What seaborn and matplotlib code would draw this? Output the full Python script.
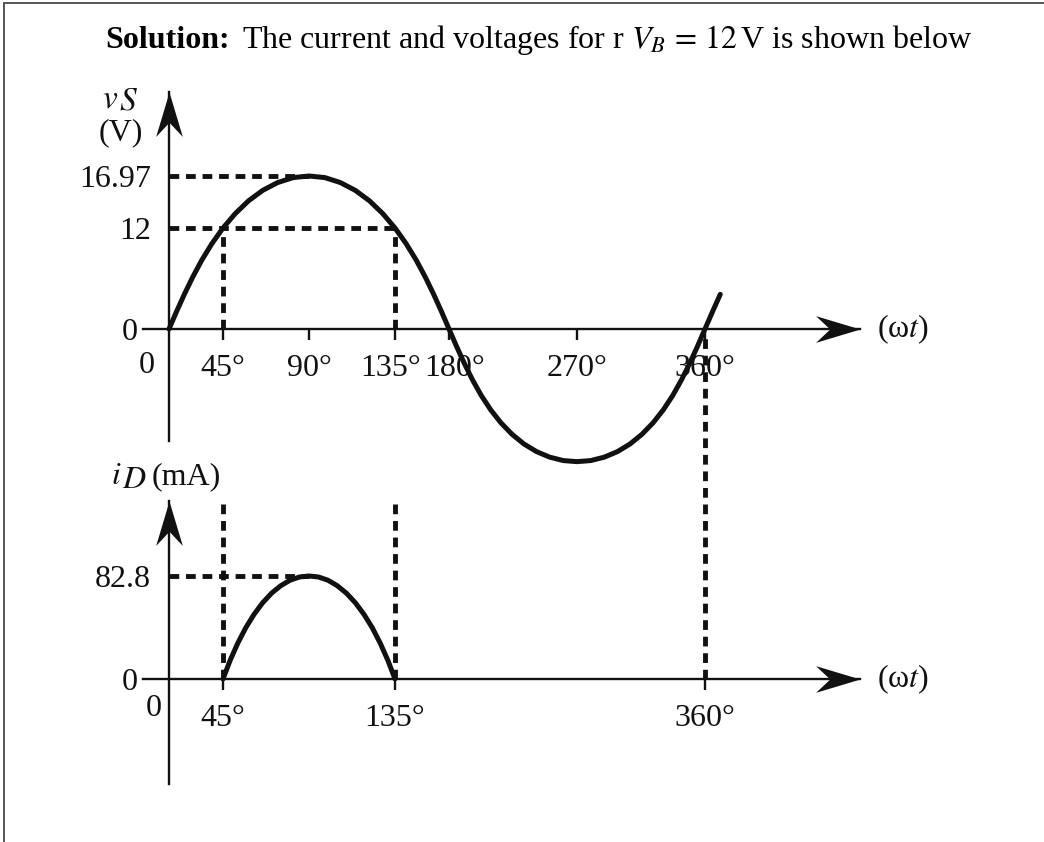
import numpy as np
import matplotlib
matplotlib.use("Agg")
import matplotlib.pyplot as plt
import matplotlib.transforms as mtransforms
from matplotlib.path import Path
from matplotlib.lines import Line2D
import seaborn as sns

# ---------------- data ----------------
angle_deg = [0, 7.5, 15, 22.5, 30, 37.5, 45, 52.5, 60, 67.5, 75, 82.5, 90,
             97.5, 105, 112.5, 120, 127.5, 135, 142.5, 150, 157.5, 165, 172.5, 180,
             187.5, 195, 202.5, 210, 217.5, 225, 232.5, 240, 247.5, 255, 262.5, 270,
             277.5, 285, 292.5, 300, 307.5, 315, 322.5, 330, 337.5, 345, 352.5, 360,
             367.5, 375]
vs_volts = [0.0, 2.22, 4.39, 6.49, 8.49, 10.33, 12.0, 13.46, 14.70, 15.68, 16.39, 16.83, 16.97,
            16.83, 16.39, 15.68, 14.70, 13.46, 12.0, 10.33, 8.49, 6.49, 4.39, 2.22, 0.0,
            -2.22, -4.39, -6.49, -8.49, -10.33, -12.0, -13.46, -14.70, -15.68, -16.39, -16.83, -16.97,
            -16.83, -16.39, -15.68, -14.70, -13.46, -12.0, -10.33, -8.49, -6.49, -4.39, -2.22, 0.0,
            2.22, 4.39]

id_angle_deg = [45, 49.5, 54, 58.5, 63, 67.5, 72, 76.5, 81, 85.5, 90,
                94.5, 99, 103.5, 108, 112.5, 117, 121.5, 126, 130.5, 135]
id_ma = [0.0, 15.1, 28.8, 41.2, 52.0, 61.3, 69.0, 75.0, 79.4, 82.0, 82.8,
         82.0, 79.4, 75.0, 69.0, 61.3, 52.0, 41.2, 28.8, 15.1, 0.0]

v_peak = 16.97
v_batt = 12
i_peak = 82.8
peak_deg = 90
cond_on_deg, cond_off_deg = 45, 135
period_deg = 360

top_ticks = [45, 90, 135, 180, 270, 360]
top_tick_labels = ["45°", "90°", "135°", "180°", "270°", "360°"]
bot_ticks = [45, 135, 360]
bot_tick_labels = ["45°", "135°", "360°"]
v_ticks = [12, 16.97]
v_tick_labels = ["12", "16.97"]
i_ticks = [82.8]
i_tick_labels = ["82.8"]

# ---------------- style ----------------
sns.set_theme(style="white")
plt.rcParams["font.family"] = ["Liberation Serif", "DejaVu Serif"]
plt.rcParams["mathtext.fontset"] = "stix"
INK = "#111111"
FS = 23

W, H = 1044, 842
fig = plt.figure(figsize=(W / 100, H / 100), dpi=100)
fig.patch.set_facecolor("white")

# The drawing's angle axis is not uniform (as in the textbook figure):
# a smooth monotone scale reproduces its tick spacing.
def x_fwd(t):
    t = np.asarray(t, dtype=float)
    r = np.radians(2 * t)
    a = 169 + 1.5556 * t - 16.0 * np.sin(r)
    b = 449 + 1.4222 * (t - 180) - 12.1 * np.sin(r)
    return np.where(t <= 180, a, b)

_tg = np.linspace(-400, 1000, 28001)
_xg = x_fwd(_tg)

def x_inv(p):
    return np.interp(np.asarray(p, dtype=float), _xg, _tg)

def v_fwd(v):
    v = np.asarray(v, dtype=float)
    return np.where(v >= 0, 7.817 * v + 0.004163 * v ** 3, 7.817 * v)

_vg = np.linspace(-120, 120, 24001)
_vp = v_fwd(_vg)

def v_inv(p):
    return np.interp(np.asarray(p, dtype=float), _vp, _vg)

V_ZERO_PX = 329          # figure row of the vS zero line
I_ZERO_PX = 679          # figure row of the iD zero line
I_PX_PER_MA = 103 / 82.8

ax_v = fig.add_axes([0, 0, 1, 1])
ax_i = fig.add_axes([0, 0, 1, 1])
for ax in (ax_v, ax_i):
    ax.set_facecolor("none")
    ax.set_xscale("function", functions=(x_fwd, x_inv))
    ax.set_xlim(x_inv(0), x_inv(W))
    ax.grid(False)
    ax.spines["top"].set_visible(False)
    ax.spines["right"].set_visible(False)
    for s in ("left", "bottom"):
        ax.spines[s].set_position(("data", 0))
        ax.spines[s].set_linewidth(1.7)
        ax.spines[s].set_color(INK)

ax_v.set_yscale("function", functions=(v_fwd, v_inv))
ax_v.set_ylim(v_inv(V_ZERO_PX - H), v_inv(V_ZERO_PX))
ax_i.set_ylim(-(H - I_ZERO_PX) / I_PX_PER_MA, I_ZERO_PX / I_PX_PER_MA)

# axis extents (layout)
X_AX_LEFT = float(x_inv(143))
X_AX_TIP = float(x_inv(860))
V_AX_BOT = float(v_inv(V_ZERO_PX - 441))
V_AX_TIP = float(v_inv(V_ZERO_PX - 92))
I_AX_BOT = -(784 - I_ZERO_PX) / I_PX_PER_MA
I_AX_TIP = (I_ZERO_PX - 501) / I_PX_PER_MA
I_AT_V_AXIS = (I_ZERO_PX - V_ZERO_PX - 7) / I_PX_PER_MA   # just under the vS axis

ax_v.spines["bottom"].set_bounds(X_AX_LEFT, X_AX_TIP)
ax_v.spines["left"].set_bounds(V_AX_BOT, V_AX_TIP)
ax_i.spines["bottom"].set_bounds(X_AX_LEFT, X_AX_TIP)
ax_i.spines["left"].set_bounds(I_AX_BOT, I_AX_TIP)

ax_v.set_xticks(top_ticks, top_tick_labels)
ax_i.set_xticks(bot_ticks, bot_tick_labels)
ax_v.set_yticks(v_ticks, v_tick_labels)
ax_i.set_yticks(i_ticks, i_tick_labels)
for ax in (ax_v, ax_i):
    ax.tick_params(axis="x", bottom=True, direction="out", length=8, width=1.7,
                   color=INK, pad=10, labelsize=FS, labelcolor=INK)
    ax.tick_params(axis="y", left=True, length=0, pad=13,
                   labelsize=FS, labelcolor=INK)
    ax.minorticks_off()

# nudge the crowded "135°" / "180°" labels as in the drawing
for lab in ax_v.get_xticklabels():
    shift = {"135°": -4, "180°": 6}.get(lab.get_text(), 0)
    if shift:
        lab.set_transform(lab.get_transform() +
                          mtransforms.ScaledTranslation(shift / 100, 0, fig.dpi_scale_trans))

# ---------------- curves ----------------
sns.lineplot(x=angle_deg, y=vs_volts, ax=ax_v, color=INK, lw=3.6,
             sort=False, legend=False, zorder=4)
sns.lineplot(x=id_angle_deg, y=id_ma, ax=ax_i, color=INK, lw=3.6,
             sort=False, legend=False, zorder=4)

# ---------------- dashed guides ----------------
DASH = (0, (2.0, 1.4))
gkw = dict(color=INK, lw=3.5, linestyles=[DASH], zorder=3)
ax_v.hlines(v_peak, 0, peak_deg, **gkw)
ax_v.hlines(v_batt, 0, cond_off_deg, **gkw)
ax_v.vlines([cond_on_deg, cond_off_deg], 0, v_batt, **gkw)
ax_i.hlines(i_peak, 0, peak_deg, **gkw)
ax_i.vlines([cond_on_deg, cond_off_deg], 0, I_AX_TIP, **gkw)
ax_i.vlines([period_deg], 0, I_AT_V_AXIS, **gkw)

# ---------------- arrow heads ----------------
C = [Path.MOVETO, Path.LINETO, Path.LINETO, Path.LINETO, Path.CLOSEPOLY]
head_right = Path([(0, 0), (-1, 0.30), (-0.68, 0), (-1, -0.30), (0, 0)], C)
head_up = Path([(0, 0), (0.30, -1), (0, -0.68), (-0.30, -1), (0, 0)], C)
mk = dict(markersize=64, markeredgewidth=0, color=INK, zorder=6, clip_on=False)
ax_v.plot([X_AX_TIP], [0], marker=head_right, **mk)
ax_v.plot([0], [V_AX_TIP], marker=head_up, **mk)
ax_i.plot([X_AX_TIP], [0], marker=head_right, **mk)
ax_i.plot([0], [I_AX_TIP], marker=head_up, **mk)

# ---------------- labels ----------------
tkw = dict(textcoords="offset points", fontsize=FS, color=INK)
for ax in (ax_v, ax_i):
    ax.annotate("0", xy=(X_AX_LEFT, 0), xytext=(-4, 0), ha="right",
                va="center_baseline", **tkw)
ax_v.annotate("0", xy=(0, 0), xytext=(-16, -26), ha="center", va="center", **tkw)
ax_i.annotate("0", xy=(0, 0), xytext=(-11, -21), ha="center", va="center", **tkw)

# axis names: symbol letters drawn full size, second letter slightly lowered
lv = ax_v.annotate(r"$v$", xy=(0, V_AX_TIP), xytext=(-48, -11), ha="left",
                   va="baseline", fontsize=24, textcoords="offset points", color=INK)
ax_v.annotate(r"$S$", xy=(1, 0), xycoords=lv, xytext=(0.5, -1.5), ha="left",
              va="bottom", fontsize=24, textcoords="offset points", color=INK)
ax_v.annotate("(V)", xy=(0, V_AX_TIP), xytext=(-35, -29), ha="center",
              va="center", **tkw)
li = ax_i.annotate(r"$i$", xy=(0, I_AX_TIP), xytext=(-42, 12), ha="left",
                   va="baseline", **tkw)
ld = ax_i.annotate(r"$D$", xy=(1, 0), xycoords=li, xytext=(0.5, -2.5), ha="left",
                   va="bottom", **tkw)
ax_i.annotate("(mA)", xy=(1, 0), xycoords=ld, xytext=(4, 2.5), ha="left",
              va="bottom", **tkw)
for ax in (ax_v, ax_i):
    ax.annotate(r"(ω$t$)", xy=(X_AX_TIP, 0), xytext=(12, 0), ha="left",
                va="center", **tkw)

# ---------------- title ----------------
TY = 1 - 48 / H
TFS = 23
t1 = fig.text(105 / W, TY, "Solution:", fontsize=TFS, fontweight="bold",
              va="baseline", ha="left", color="black")
fig.canvas.draw()
bb = t1.get_window_extent()
fig.text((bb.x1 + 12) / W, TY,
         r"The current and voltages for r $V_B\,=\,12\,$V is shown below",
         fontsize=TFS, va="baseline", ha="left", color="black")

# ---------------- page frame ----------------
fig.add_artist(Line2D([4 / W, 1], [1 - 2.5 / H] * 2, transform=fig.transFigure,
                      color="#555555", lw=1.4))
fig.add_artist(Line2D([4 / W] * 2, [0, 1 - 2.5 / H], transform=fig.transFigure,
                      color="#555555", lw=1.4))

fig.savefig("out.png", dpi=100, facecolor="white")
